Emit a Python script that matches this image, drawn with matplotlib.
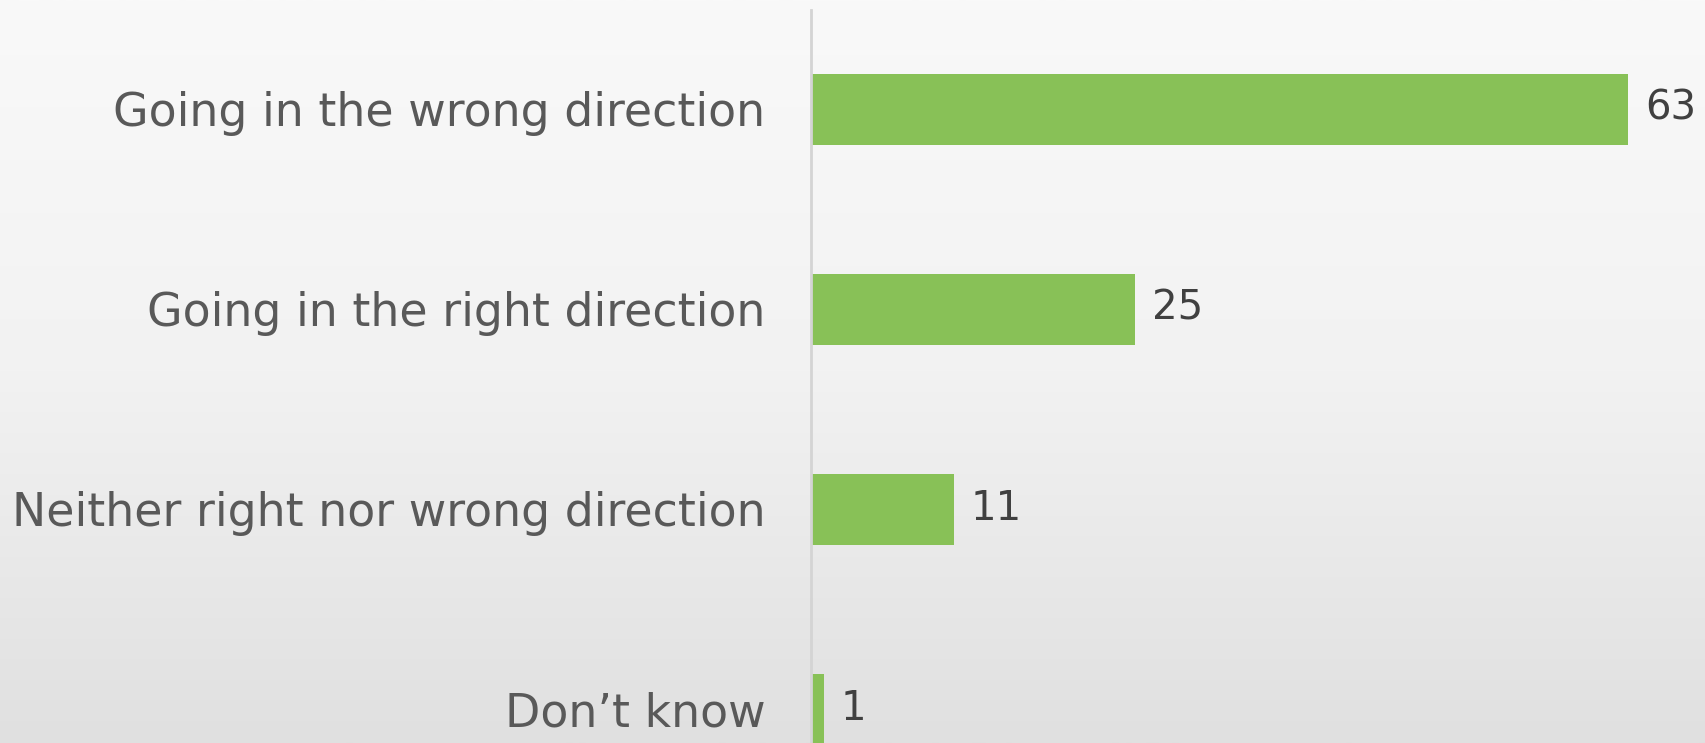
import matplotlib
matplotlib.use("Agg")
import matplotlib.pyplot as plt
import numpy as np
from matplotlib.colors import LinearSegmentedColormap

categories = ["Going in the wrong direction", "Going in the right direction",
              "Neither right nor wrong direction", "Don\u2019t know"]
values = [63, 25, 11, 1]

W, H = 1706, 743
fig = plt.figure(figsize=(W / 100, H / 100), dpi=100)

# background gradient
bg = fig.add_axes([0, 0, 1, 1], zorder=0)
grad = np.linspace(0, 1, 256).reshape(-1, 1)
cmap = LinearSegmentedColormap.from_list("bg", ["#f9f9f9", "#f2f2f2", "#e0e0e0"])
bg.imshow(grad, aspect="auto", cmap=cmap, extent=[0, 1, 0, 1], origin="upper")
bg.set_axis_off()

left = 811 / W
top = 10 / H
ax = fig.add_axes([left, 0, 1 - left, 1 - top], zorder=1)
ax.patch.set_alpha(0)

y = np.arange(len(categories))
ax.barh(y, values, height=0.355, color="#88c157")
ax.set_xlim(0, (W - 811) / 12.97)
ax.set_ylim(3.17, -0.495)

for s in ["top", "right", "bottom"]:
    ax.spines[s].set_visible(False)
ax.spines["left"].set_color("#d4d4d4")
ax.spines["left"].set_linewidth(2)
ax.set_xticks([])
ax.set_yticks(y)
ax.set_yticklabels(categories, fontsize=33, color="#595959", family="DejaVu Sans")
ax.tick_params(axis="y", length=0, pad=33)

for yi, v in zip(y, values):
    ax.annotate(str(v), (v, yi), xytext=(17, 0), textcoords="offset pixels",
                va="center", ha="left", fontsize=29, color="#404040")

fig.savefig("out.png", dpi=100)
